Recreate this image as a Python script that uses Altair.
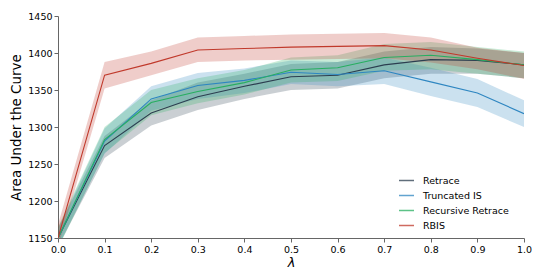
import altair as alt
import pandas as pd

lambdas = [0.0, 0.1, 0.2, 0.3, 0.4, 0.5, 0.6, 0.7, 0.8, 0.9, 1.0]
series_names = ["Retrace", "Truncated IS", "Recursive Retrace", "RBIS"]
y_ticks = [1150, 1200, 1250, 1300, 1350, 1400, 1450]

retrace_mean = [1150, 1275, 1319, 1341, 1355, 1368, 1370, 1384, 1391, 1390, 1384]
retrace_lo = [1138, 1258, 1302, 1323, 1338, 1350, 1352, 1366, 1372, 1372, 1366]
retrace_hi = [1164, 1288, 1336, 1360, 1372, 1385, 1388, 1402, 1408, 1406, 1400]

tis_mean = [1150, 1281, 1338, 1356, 1363, 1374, 1371, 1376, 1361, 1346, 1318]
tis_lo = [1138, 1264, 1322, 1338, 1346, 1358, 1355, 1358, 1342, 1327, 1300]
tis_hi = [1162, 1298, 1355, 1373, 1379, 1390, 1388, 1394, 1380, 1365, 1336]

rr_mean = [1150, 1283, 1333, 1348, 1360, 1377, 1380, 1394, 1397, 1391, 1384]
rr_lo = [1136, 1265, 1316, 1332, 1344, 1360, 1362, 1376, 1378, 1372, 1366]
rr_hi = [1165, 1300, 1350, 1366, 1377, 1394, 1397, 1412, 1415, 1408, 1402]

rbis_mean = [1150, 1370, 1386, 1404, 1406, 1408, 1409, 1410, 1404, 1393, 1383]
rbis_lo = [1138, 1352, 1370, 1388, 1390, 1391, 1392, 1393, 1387, 1378, 1365]
rbis_hi = [1168, 1388, 1402, 1421, 1423, 1425, 1426, 1427, 1421, 1407, 1400]

line_colors = ["#2c3e50", "#2e86c1", "#27ae60", "#c0392b"]

all_data = {
    "Retrace": (retrace_mean, retrace_lo, retrace_hi),
    "Truncated IS": (tis_mean, tis_lo, tis_hi),
    "Recursive Retrace": (rr_mean, rr_lo, rr_hi),
    "RBIS": (rbis_mean, rbis_lo, rbis_hi),
}

rows = []
for name in series_names:
    m, lo, hi = all_data[name]
    for i, lam in enumerate(lambdas):
        rows.append({"series": name, "lam": lam, "mean": m[i], "lo": lo[i], "hi": hi[i]})
df = pd.DataFrame(rows)

xscale = alt.Scale(domain=[0, 1], nice=False)
yscale = alt.Scale(domain=[1150, 1450], nice=False)
cscale = alt.Scale(domain=series_names, range=line_colors)

legend = alt.Legend(title=None, orient="none", legendX=340, legendY=156,
                    symbolType="stroke", symbolStrokeWidth=1.5, symbolSize=225,
                    symbolOpacity=0.75, labelFontSize=9.5, rowPadding=2,
                    labelFont="DejaVu Sans", labelOffset=8)

xaxis = alt.Axis(title="λ", values=lambdas, format=".1f", grid=False, labelFlush=False,
                 titleFontStyle="italic", titleFontSize=13, labelOverlap=False,
                 titleFontWeight="normal", titlePadding=3)
yaxis = alt.Axis(title="Area Under the Curve", values=y_ticks, format="d",
                 grid=False, titleFontSize=13.5, titleFontWeight="normal",
                 titlePadding=4, labelOverlap=False, labelPadding=2, labelFlush=False)

layers = []
for name in series_names:
    sub = alt.Chart(df).transform_filter(alt.datum.series == name)
    area = sub.mark_area(opacity=0.25, clip=True).encode(
        x=alt.X("lam:Q", scale=xscale, axis=xaxis),
        y=alt.Y("lo:Q", scale=yscale, axis=yaxis),
        y2="hi:Q",
        color=alt.Color("series:N", scale=cscale, legend=legend),
    )
    layers.append(area)
for name in series_names:
    sub = alt.Chart(df).transform_filter(alt.datum.series == name)
    line = sub.mark_line(strokeWidth=1.1, clip=True).encode(
        x=alt.X("lam:Q", scale=xscale, axis=xaxis),
        y=alt.Y("mean:Q", scale=yscale, axis=yaxis),
        color=alt.Color("series:N", scale=cscale, legend=legend),
    )
    layers.append(line)

chart = alt.layer(*layers).properties(
    width=466, height=222,
    autosize=alt.AutoSizeParams(type="none"),
    padding={"left": 50, "top": 8, "right": 8, "bottom": 32}
).configure_view(stroke=None).configure_axis(
    labelFont="DejaVu Sans", titleFont="DejaVu Sans", labelFontSize=9.5, labelColor="#000",
    titleColor="#000", domainColor="#666", tickColor="#666", tickSize=4
)

chart.save("out.html", embed_options={"renderer": "svg", "actions": False})
